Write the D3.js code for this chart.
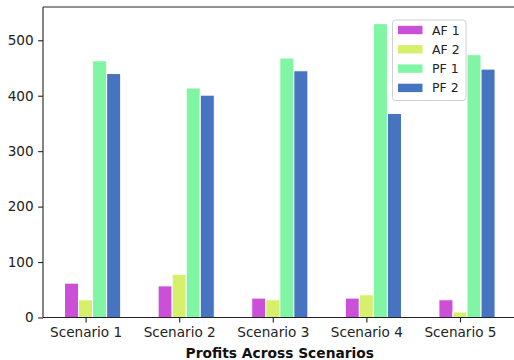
<!DOCTYPE html>
<html>
<head>
<meta charset="utf-8">
<script src="https://cdn.jsdelivr.net/npm/d3@7"></script>
<style>
  html, body { margin: 0; padding: 0; background: #fff; }
  svg { display: block; font-family: "DejaVu Sans", sans-serif; }
</style>
</head>
<body>
<svg id="chart" width="514" height="360"></svg>
<script>
const categories = ["Scenario 1", "Scenario 2", "Scenario 3", "Scenario 4", "Scenario 5"];
const seriesNames = ["AF 1", "AF 2", "PF 1", "PF 2"];
const af1 = [62, 57, 35, 35, 32];
const af2 = [32, 78, 32, 41, 10];
const pf1 = [463, 414, 468, 530, 474];
const pf2 = [440, 401, 445, 368, 448];
const colors = ["#cc4fd8", "#d6f06c", "#80f5a4", "#4674c0"];
const yTicks = [0, 100, 200, 300, 400, 500];
const title = "Profits Across Scenarios";

const series = [af1, af2, pf1, pf2];
const barW = 0.15;

const svg = d3.select("#chart");
const pLeft = 43, pTop = 7, pBottom = 317.5, pRight = 516.6;

const x = d3.scaleLinear().domain([-0.305, 4.755]).range([pLeft, pRight]);
const y = d3.scaleLinear().domain([0, 560]).range([pBottom, pTop]);

// bars
series.forEach((vals, k) => {
  svg.append("g").selectAll("rect").data(vals).join("rect")
    .attr("x", (d, i) => x(i + k * barW - barW / 2))
    .attr("width", x(barW) - x(0))
    .attr("y", d => y(d))
    .attr("height", d => y(0) - y(d))
    .attr("fill", colors[k])
    .attr("stroke", "#fff")
    .attr("stroke-width", 1);
});

// spines
svg.append("line").attr("x1", pLeft).attr("x2", pLeft).attr("y1", pTop).attr("y2", pBottom)
  .attr("stroke", "#222").attr("stroke-width", 1.1);
svg.append("line").attr("x1", pLeft).attr("x2", pRight).attr("y1", pTop).attr("y2", pTop)
  .attr("stroke", "#222").attr("stroke-width", 1.1);
svg.append("line").attr("x1", pRight).attr("x2", pRight).attr("y1", pTop).attr("y2", pBottom)
  .attr("stroke", "#222").attr("stroke-width", 1.1);

// y axis
const yAxis = d3.axisLeft(y).tickValues(yTicks).tickSize(4.9).tickPadding(4.5);
const gy = svg.append("g").attr("transform", `translate(${pLeft},0)`).call(yAxis);
gy.select(".domain").remove();
gy.selectAll(".tick line").attr("stroke", "#222").attr("stroke-width", 1.1);
gy.selectAll(".tick text").attr("font-size", 13.6).attr("fill", "#222")
  .attr("font-family", "DejaVu Sans");

// x axis
const xAxis = d3.axisBottom(x).tickValues(categories.map((c, i) => i + barW))
  .tickFormat((d, i) => categories[i]).tickSize(4.9).tickPadding(4.5);
const gx = svg.append("g").attr("transform", `translate(0,${pBottom})`).call(xAxis);
gx.select(".domain").attr("stroke", "#222").attr("stroke-width", 1.1).attr("d", `M${pLeft},0H${pRight}`);
gx.selectAll(".tick line").attr("stroke", "#222").attr("stroke-width", 1.1);
gx.selectAll(".tick text").attr("font-size", 13.6).attr("fill", "#222")
  .attr("font-family", "DejaVu Sans");

// title
svg.append("text").attr("x", (pLeft + pRight) / 2).attr("y", 357.5)
  .attr("text-anchor", "middle").attr("font-weight", "bold").attr("font-size", 13.8)
  .attr("fill", "#111").text(title);

// legend
const lg = svg.append("g");
lg.append("rect").attr("x", 392.5).attr("y", 20).attr("width", 73.5).attr("height", 80.5)
  .attr("rx", 3).attr("fill", "#fff").attr("fill-opacity", 0.8)
  .attr("stroke", "#d0d0d0").attr("stroke-width", 1);
seriesNames.forEach((n, k) => {
  const cy = 30 + k * 19.3;
  lg.append("rect").attr("x", 398).attr("y", cy - 4.2).attr("width", 24.5).attr("height", 8.4)
    .attr("fill", colors[k]);
  lg.append("text").attr("x", 432).attr("y", cy).attr("dy", "0.36em")
    .attr("font-size", 12.5).attr("fill", "#222").text(n);
});
</script>
</body>
</html>
